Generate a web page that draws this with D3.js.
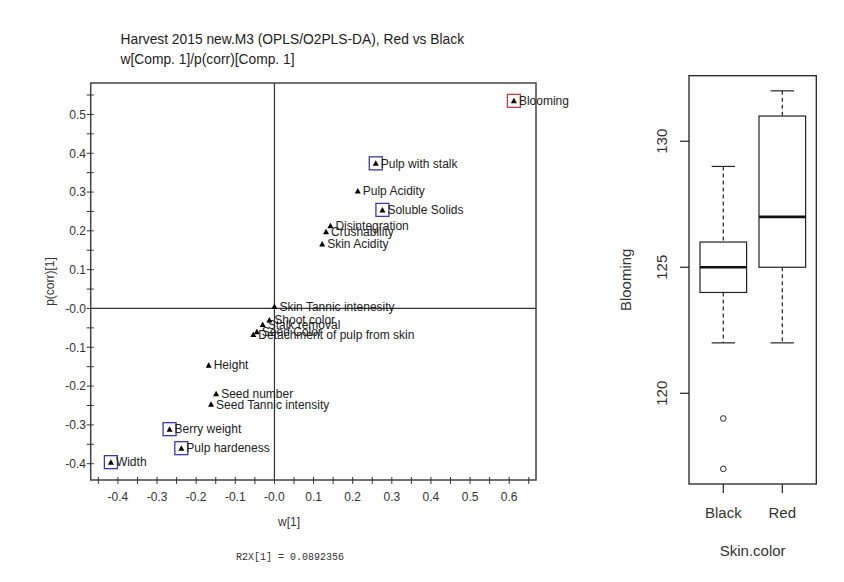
<!DOCTYPE html>
<html><head><meta charset="utf-8">
<script src="https://cdn.jsdelivr.net/npm/d3@7"></script>
<style>body{margin:0;background:#fff}svg{display:block}</style>
</head><body>
<svg id="c" width="844" height="582"></svg>
<script>
// ---- Loading plot data ----
const varNames = ["Blooming","Pulp with stalk","Pulp Acidity","Soluble Solids","Disintegration","Crushability","Skin Acidity","Skin Tannic intenesity","Shoot color","Stalk removal","Seed Color","Detachment of pulp from skin","Height","Seed number","Seed Tannic intensity","Berry weight","Pulp hardeness","Width"];
const wValues = [0.612,0.259,0.213,0.276,0.143,0.132,0.122,0.0,-0.013,-0.030,-0.045,-0.054,-0.168,-0.149,-0.162,-0.268,-0.238,-0.418];
const pcorrValues = [0.535,0.374,0.303,0.254,0.213,0.198,0.166,0.005,-0.030,-0.041,-0.060,-0.067,-0.146,-0.220,-0.247,-0.311,-0.360,-0.396];
const highlight = ["red","blue","","blue","","","","","","","","","","","","blue","blue","blue"];
const xTickValues = [-0.4,-0.3,-0.2,-0.1,0,0.1,0.2,0.3,0.4,0.5,0.6];
const xTickLabels = ["-0.4","-0.3","-0.2","-0.1","-0.0","0.1","0.2","0.3","0.4","0.5","0.6"];
const yTickValues = [0.5,0.4,0.3,0.2,0.1,0,-0.1,-0.2,-0.3,-0.4];
const yTickLabels = ["0.5","0.4","0.3","0.2","0.1","-0.0","-0.1","-0.2","-0.3","-0.4"];
const titleLines = ["Harvest 2015 new.M3 (OPLS/O2PLS-DA), Red vs Black","w[Comp. 1]/p(corr)[Comp. 1]"];
const footerText = "R2X[1] = 0.0892356";

// ---- Boxplot data ----
const groups = ["Black","Red"];
const boxStats = [
  {lo:122, q1:124, med:125, q3:126, hi:129, out:[119,117]},
  {lo:122, q1:125, med:127, q3:131, hi:132, out:[]}
];
const boxYTicks = [120,125,130];

const svg = d3.select("#c");
const FONT = "Arial, 'Liberation Sans', sans-serif";

// ===== Left: loading plot =====
const L = {left:90.7, right:536, top:83, bottom:480};
const x = d3.scaleLinear().domain([-0.4696, 0.6685]).range([L.left, L.right]);
const y = d3.scaleLinear().domain([-0.442, 0.581]).range([L.bottom, L.top]);

svg.selectAll("text.title").data(titleLines).join("text")
  .attr("x",120.5).attr("y",(d,i)=>44+i*20)
  .attr("font-family",FONT).attr("font-size",13.8).attr("fill","#222")
  .text(d=>d);

svg.append("rect").attr("x",L.left).attr("y",L.top)
  .attr("width",L.right-L.left).attr("height",L.bottom-L.top)
  .attr("fill","none").attr("stroke","#444").attr("stroke-width",1.5);
svg.append("line").attr("x1",x(0)).attr("x2",x(0)).attr("y1",L.top).attr("y2",L.bottom)
  .attr("stroke","#333").attr("stroke-width",1.2);
svg.append("line").attr("x1",L.left).attr("x2",L.right).attr("y1",y(0)).attr("y2",y(0))
  .attr("stroke","#333").attr("stroke-width",1.2);

const xMinor = d3.range(-9,14).map(i=>i*0.05).filter(v=>x(v)>=L.left-0.5 && x(v)<=L.right+0.5);
const yMinor = d3.range(-8,12).map(i=>i*0.05).filter(v=>y(v)<=L.bottom && y(v)>=L.top);
svg.append("g").selectAll("line").data(xMinor).join("line")
  .attr("x1",d=>x(d)).attr("x2",d=>x(d)).attr("y1",L.bottom-3).attr("y2",L.bottom+4)
  .attr("stroke","#333").attr("stroke-width",1);
svg.append("g").selectAll("line").data(yMinor).join("line")
  .attr("y1",d=>y(d)).attr("y2",d=>y(d)).attr("x1",L.left-4).attr("x2",L.left+3)
  .attr("stroke","#333").attr("stroke-width",1);

svg.append("g").selectAll("text").data(xTickValues).join("text")
  .attr("x",d=>x(d)).attr("y",501).attr("text-anchor","middle")
  .attr("font-family",FONT).attr("font-size",12).attr("fill","#333")
  .text((d,i)=>xTickLabels[i]);
svg.append("g").selectAll("text").data(yTickValues).join("text")
  .attr("x",86).attr("y",d=>y(d)+4.3).attr("text-anchor","end")
  .attr("font-family",FONT).attr("font-size",12).attr("fill","#333")
  .text((d,i)=>yTickLabels[i]);

svg.append("text").attr("x",289).attr("y",526).attr("text-anchor","middle")
  .attr("font-family",FONT).attr("font-size",12).attr("fill","#333").text("w[1]");
svg.append("text").attr("transform","translate(54,"+((L.top+L.bottom)/2)+") rotate(-90)")
  .attr("text-anchor","middle")
  .attr("font-family",FONT).attr("font-size",12).attr("fill","#333").text("p(corr)[1]");
svg.append("text").attr("x",290).attr("y",560).attr("text-anchor","middle")
  .attr("font-family","'Liberation Mono','DejaVu Sans Mono',monospace").attr("font-size",10).attr("fill","#333")
  .text(footerText);

const pts = varNames.map((n,i)=>({n, w:wValues[i], p:pcorrValues[i], h:highlight[i]}));
const pg = svg.append("g");
pg.selectAll("rect").data(pts.filter(d=>d.h)).join("rect")
  .attr("x",d=>x(d.w)-6.5).attr("y",d=>y(d.p)-6.5).attr("width",13).attr("height",13)
  .attr("fill","none").attr("stroke",d=>d.h==="red"?"#c0404a":"#3a3aa8").attr("stroke-width",1.3);
pg.selectAll("path").data(pts).join("path")
  .attr("d",d=>{const cx=x(d.w), cy=y(d.p); return `M${cx-3},${cy+2.5}L${cx+3},${cy+2.5}L${cx},${cy-3}Z`;})
  .attr("fill","#000");
pg.selectAll("text").data(pts).join("text")
  .attr("x",d=>x(d.w)+5).attr("y",d=>y(d.p)+4.3)
  .attr("font-family",FONT).attr("font-size",12).attr("fill","#222")
  .text(d=>d.n);

// ===== Right: boxplot =====
const B = {left:689, right:816.3, top:75.7, bottom:484};
const by = d3.scaleLinear().domain([116.4,132.6]).range([B.bottom,B.top]);
const bx = d3.scalePoint().domain(groups).range([723.3,782.3]);
const halfW = 23.3;
const BF = 15;

svg.append("rect").attr("x",B.left).attr("y",B.top).attr("width",B.right-B.left).attr("height",B.bottom-B.top)
  .attr("fill","none").attr("stroke","#222").attr("stroke-width",1.3);

const bg = svg.append("g").selectAll("g").data(boxStats).join("g");
bg.each(function(s,i){
  const g = d3.select(this), cx = bx(groups[i]);
  g.append("line").attr("x1",cx).attr("x2",cx).attr("y1",by(s.hi)).attr("y2",by(s.q3))
    .attr("stroke","#222").attr("stroke-dasharray","4,3").attr("stroke-width",1.2);
  g.append("line").attr("x1",cx).attr("x2",cx).attr("y1",by(s.q1)).attr("y2",by(s.lo))
    .attr("stroke","#222").attr("stroke-dasharray","4,3").attr("stroke-width",1.2);
  [s.hi,s.lo].forEach(v=>g.append("line").attr("x1",cx-halfW/2).attr("x2",cx+halfW/2)
    .attr("y1",by(v)).attr("y2",by(v)).attr("stroke","#222").attr("stroke-width",1.2));
  g.append("rect").attr("x",cx-halfW).attr("width",2*halfW).attr("y",by(s.q3)).attr("height",by(s.q1)-by(s.q3))
    .attr("fill","none").attr("stroke","#222").attr("stroke-width",1.2);
  g.append("line").attr("x1",cx-halfW).attr("x2",cx+halfW).attr("y1",by(s.med)).attr("y2",by(s.med))
    .attr("stroke","#111").attr("stroke-width",2.6);
  s.out.forEach(v=>g.append("circle").attr("cx",cx).attr("cy",by(v)).attr("r",2.8)
    .attr("fill","none").attr("stroke","#222").attr("stroke-width",1));
});

svg.append("g").selectAll("line").data(boxYTicks).join("line")
  .attr("x1",B.left-9).attr("x2",B.left).attr("y1",d=>by(d)).attr("y2",d=>by(d))
  .attr("stroke","#222").attr("stroke-width",1.2);
svg.append("g").selectAll("text").data(boxYTicks).join("text")
  .attr("transform",d=>`translate(667,${by(d)}) rotate(-90)`).attr("text-anchor","middle")
  .attr("font-family",FONT).attr("font-size",BF).attr("fill","#333").text(d=>d);
svg.append("g").selectAll("line").data(groups).join("line")
  .attr("x1",d=>bx(d)).attr("x2",d=>bx(d)).attr("y1",B.bottom).attr("y2",B.bottom+9)
  .attr("stroke","#222").attr("stroke-width",1.2);
svg.append("g").selectAll("text").data(groups).join("text")
  .attr("x",d=>bx(d)).attr("y",517.5).attr("text-anchor","middle")
  .attr("font-family",FONT).attr("font-size",BF).attr("fill","#333").text(d=>d);
svg.append("text").attr("x",(B.left+B.right)/2).attr("y",556).attr("text-anchor","middle")
  .attr("font-family",FONT).attr("font-size",BF).attr("fill","#333").text("Skin.color");
svg.append("text").attr("transform",`translate(631,${(B.top+B.bottom)/2}) rotate(-90)`).attr("text-anchor","middle")
  .attr("font-family",FONT).attr("font-size",BF).attr("fill","#333").text("Blooming");
</script>
</body></html>
